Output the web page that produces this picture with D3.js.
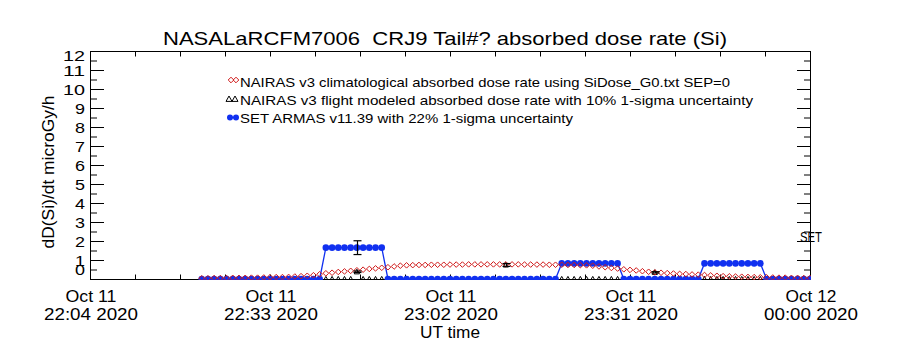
<!DOCTYPE html>
<html>
<head>
<meta charset="utf-8">
<script src="https://cdn.jsdelivr.net/npm/d3@7"></script>
<style>
  html, body { margin: 0; padding: 0; background: #fff; }
  svg { display: block; font-family: "Liberation Sans", "DejaVu Sans", sans-serif; }
  text { white-space: pre; }
</style>
</head>
<body>
<svg id="chart" width="900" height="350"></svg>
<script>
// ---- text ----
const titleText = "NASALaRCFM7006  CRJ9 Tail#? absorbed dose rate (Si)";
const yTitle = "dD(Si)/dt microGy/h";
const xTitle = "UT time";
const legendLabels = [
  "NAIRAS v3 climatological absorbed dose rate using SiDose_G0.txt SEP=0",
  "NAIRAS v3 flight modeled absorbed dose rate with 10% 1-sigma uncertainty",
  "SET ARMAS v11.39 with 22% 1-sigma uncertainty"
];
const sideLabel = "SET";

// ---- axes ----
const xTickTimes = ["2020-10-11T22:04:00Z", "2020-10-11T22:33:00Z", "2020-10-11T23:02:00Z",
                    "2020-10-11T23:31:00Z", "2020-10-12T00:00:00Z"];
const xTickDate = ["Oct 11", "Oct 11", "Oct 11", "Oct 11", "Oct 12"];
const xTickClock = ["22:04 2020", "22:33 2020", "23:02 2020", "23:31 2020", "00:00 2020"];
const yTickValues = [0, 1, 2, 3, 4, 5, 6, 7, 8, 9, 10, 11, 12];
const yMinorValues = [0.5, 1.5, 2.5, 3.5, 4.5, 5.5, 6.5, 7.5, 8.5, 9.5, 10.5, 11.5];

// ---- series: one sample per minute from 22:22 UT to 00:00 UT ----
const seriesStart = "2020-10-11T22:22:00Z";
const sampleMinutes = 1;

// SET ARMAS measured dose rate (microGy/h)
const setArmas = [
  0, 0, 0, 0, 0, 0, 0, 0, 0, 0,
  0, 0, 0, 0, 0, 0, 0, 0, 0, 0,
  1.65, 1.65, 1.65, 1.65, 1.65, 1.65, 1.65, 1.65, 1.65, 1.65,
  0, 0, 0, 0, 0, 0, 0, 0, 0, 0,
  0, 0, 0, 0, 0, 0, 0, 0, 0, 0,
  0, 0, 0, 0, 0, 0, 0, 0, 0.82, 0.82,
  0.82, 0.82, 0.82, 0.82, 0.82, 0.82, 0.82, 0.82, 0, 0,
  0, 0, 0, 0, 0, 0, 0, 0, 0, 0,
  0, 0.82, 0.82, 0.82, 0.82, 0.82, 0.82, 0.82, 0.82, 0.82,
  0.82, 0, 0, 0, 0, 0, 0, 0, 0
];

// NAIRAS v3 climatological dose rate (microGy/h)
const climatological = [
  0.04, 0.04, 0.05, 0.05, 0.05, 0.06, 0.06, 0.06, 0.07, 0.07,
  0.08, 0.09, 0.10, 0.10, 0.11, 0.13, 0.15, 0.17, 0.20, 0.25,
  0.30, 0.33, 0.37, 0.40, 0.43, 0.46, 0.49, 0.53, 0.56, 0.59,
  0.62, 0.66, 0.70, 0.72, 0.73, 0.74, 0.74, 0.75, 0.75, 0.75,
  0.76, 0.76, 0.76, 0.77, 0.77, 0.77, 0.77, 0.77, 0.77, 0.77,
  0.77, 0.77, 0.76, 0.76, 0.76, 0.76, 0.75, 0.75, 0.75, 0.74,
  0.74, 0.73, 0.72, 0.70, 0.66, 0.62, 0.58, 0.55, 0.51, 0.48,
  0.45, 0.41, 0.38, 0.35, 0.33, 0.31, 0.29, 0.27, 0.26, 0.24,
  0.23, 0.21, 0.19, 0.17, 0.15, 0.14, 0.13, 0.12, 0.11, 0.10,
  0.09, 0.09, 0.08, 0.07, 0.07, 0.06, 0.06, 0.05, 0.05
];

// NAIRAS v3 flight-modeled dose rate (microGy/h)
const flightModel = [
  0, 0, 0, 0, 0, 0, 0, 0, 0, 0,
  0, 0, 0, 0, 0, 0, 0, 0, 0, 0,
  0, 0, 0, 0, 0, 0.38, 0, 0, 0, 0,
  0, 0, 0, 0, 0, 0, 0, 0, 0, 0,
  0, 0, 0, 0, 0, 0, 0, 0, 0, 0.74,
  0, 0, 0, 0, 0, 0, 0, 0, 0, 0,
  0, 0, 0, 0, 0, 0, 0, 0, 0, 0,
  0, 0, 0, 0.35, 0, 0, 0, 0, 0, 0,
  0, 0, 0, 0, 0, 0, 0, 0, 0, 0,
  0, 0, 0, 0, 0, 0, 0, 0, 0
];
const flightRelErr = 0.10;

// SET ARMAS summary point with its 1-sigma bar
const setErrTimes = ["2020-10-11T22:47:00Z"];
const setErrValues = [1.65];
const setRelErr = 0.22;

// ---- colours ----
const RED = "#d01818";
const BLUE = "#1030f0";

// ---- build ----
const svg = d3.select("#chart");
const X0 = 90, X1 = 810, Y0 = 279, Y1 = 51;

const t0 = new Date(xTickTimes[0]), t1 = new Date(xTickTimes[xTickTimes.length - 1]);
const x = d3.scaleUtc().domain([t0, t1]).range([X0, X1]);
const y = d3.scaleLinear().domain([0, 12]).range([Y0, Y1]);

const startMs = +new Date(seriesStart);
const timeAt = i => new Date(startMs + i * sampleMinutes * 60000);

svg.append("defs").append("clipPath").attr("id", "plotClip")
  .append("rect").attr("x", X0).attr("y", Y1).attr("width", X1 - X0 + 1).attr("height", Y0 - Y1 + 1);

// frame
svg.append("rect").attr("x", X0 + 0.5).attr("y", Y1 + 0.5)
  .attr("width", X1 - X0).attr("height", Y0 - Y1)
  .attr("fill", "none").attr("stroke", "#000").attr("stroke-width", 1);

function ticksOnly(axis, transform) {
  const g = svg.append("g").attr("transform", transform).call(axis);
  g.select(".domain").remove();
  g.selectAll("text").remove();
  g.selectAll("line").attr("stroke", "#000");
  return g;
}

// x ticks: four sub-intervals between each labelled time
const xMinorTimes = d3.range((xTickTimes.length - 1) * 4 + 1)
  .map(k => new Date(+t0 + k * (t1 - t0) / ((xTickTimes.length - 1) * 4)));
ticksOnly(d3.axisBottom(x).tickValues(xMinorTimes).tickSize(-5), `translate(0,${Y0 + 0.5})`);
ticksOnly(d3.axisTop(x).tickValues(xMinorTimes).tickSize(-5), `translate(0,${Y1 + 0.5})`);

// y ticks, both sides
ticksOnly(d3.axisLeft(y).tickValues(yTickValues).tickSize(-14), `translate(${X0},0)`);
ticksOnly(d3.axisLeft(y).tickValues(yMinorValues).tickSize(-7), `translate(${X0},0)`);
ticksOnly(d3.axisRight(y).tickValues(yTickValues).tickSize(-14), `translate(${X1 + 1},0)`);
ticksOnly(d3.axisRight(y).tickValues(yMinorValues).tickSize(-7), `translate(${X1 + 1},0)`);

// y tick labels (kept inside the frame height at the ends)
svg.append("g").selectAll("text").data(yTickValues).join("text")
  .attr("x", 85)
  .attr("y", d => Math.max(Y1 + 5, Math.min(Y0 - 9, y(d) + 1)))
  .attr("dy", "0.36em")
  .attr("text-anchor", "end")
  .attr("font-size", 14)
  .attr("textLength", d => String(d).length > 1 ? 22 : 10)
  .attr("lengthAdjust", "spacingAndGlyphs")
  .text(d => d);

// x tick labels
const xl = svg.append("g");
xTickTimes.forEach((t, i) => {
  const cx = x(new Date(t)) + 1;
  xl.append("text").attr("x", cx).attr("y", 302).attr("text-anchor", "middle")
    .attr("font-size", 16).attr("textLength", 51).attr("lengthAdjust", "spacingAndGlyphs")
    .text(xTickDate[i]);
  xl.append("text").attr("x", cx).attr("y", 320).attr("text-anchor", "middle")
    .attr("font-size", 16).attr("textLength", 94).attr("lengthAdjust", "spacingAndGlyphs")
    .text(xTickClock[i]);
});

// titles
svg.append("text").attr("x", 445).attr("y", 45).attr("text-anchor", "middle")
  .attr("font-size", 19).attr("textLength", 564).attr("lengthAdjust", "spacingAndGlyphs")
  .text(titleText);
svg.append("text").attr("x", 450).attr("y", 338).attr("text-anchor", "middle")
  .attr("font-size", 16).attr("textLength", 60).attr("lengthAdjust", "spacingAndGlyphs")
  .text(xTitle);
svg.append("text").attr("transform", "translate(54,172) rotate(-90)").attr("text-anchor", "middle")
  .attr("font-size", 16).attr("textLength", 153).attr("lengthAdjust", "spacingAndGlyphs")
  .text(yTitle);

// ---- marks ----
const diamond = (s) => `M0,${-s}L${s},0L0,${s}L${-s},0Z`;
const triangle = (s) => `M0,${-s}L${s},${s * 0.8}L${-s},${s * 0.8}Z`;

const plot = svg.append("g").attr("clip-path", "url(#plotClip)");

// flight-modeled triangles
const flightPts = flightModel.map((v, i) => ({ t: timeAt(i), v }));
plot.append("g").selectAll("path").data(flightPts).join("path")
  .attr("transform", d => `translate(${x(d.t)},${y(d.v)})`)
  .attr("d", triangle(2.6))
  .attr("fill", "none").attr("stroke", "#000").attr("stroke-width", 1);

// SET ARMAS line and dots
const setPts = setArmas.map((v, i) => ({ t: timeAt(i), v }));
plot.append("path").datum(setPts)
  .attr("d", d3.line().x(d => x(d.t)).y(d => y(d.v)))
  .attr("fill", "none").attr("stroke", BLUE).attr("stroke-width", 1.3);
plot.append("g").selectAll("circle").data(setPts).join("circle")
  .attr("cx", d => x(d.t)).attr("cy", d => y(d.v)).attr("r", 3.3)
  .attr("fill", BLUE);

// climatological diamonds
const climPts = climatological.map((v, i) => ({ t: timeAt(i), v }));
plot.append("g").selectAll("path").data(climPts).join("path")
  .attr("transform", d => `translate(${x(d.t)},${y(d.v)})`)
  .attr("d", diamond(2.8))
  .attr("fill", "none").attr("stroke", RED).attr("stroke-width", 1);

// error bars
function errorBar(g, t, v, rel, capHalf) {
  const cx = Math.round(x(t)) + 0.5;
  const lo = y(v * (1 - rel)), hi = y(v * (1 + rel));
  g.append("line").attr("x1", cx).attr("x2", cx).attr("y1", lo).attr("y2", hi);
  g.append("line").attr("x1", cx - capHalf).attr("x2", cx + capHalf).attr("y1", lo).attr("y2", lo);
  g.append("line").attr("x1", cx - capHalf).attr("x2", cx + capHalf).attr("y1", hi).attr("y2", hi);
}
const eb = plot.append("g").attr("stroke", "#000").attr("stroke-width", 1.2);
setErrTimes.forEach((t, i) => errorBar(eb, new Date(t), setErrValues[i], setRelErr, 4));
flightPts.filter(d => d.v > 0).forEach(d => errorBar(eb, d.t, d.v, flightRelErr, 4));

// ---- legend ----
const lg = svg.append("g");
[231, 236].forEach(cx => lg.append("path").attr("transform", `translate(${cx},80)`)
  .attr("d", diamond(2.8)).attr("fill", "none").attr("stroke", RED));
[229, 235].forEach(cx => lg.append("path").attr("transform", `translate(${cx},99)`)
  .attr("d", triangle(3)).attr("fill", "none").attr("stroke", "#000"));
lg.append("line").attr("x1", 230).attr("x2", 236).attr("y1", 117.5).attr("y2", 117.5)
  .attr("stroke", BLUE).attr("stroke-width", 1.3);
[230, 236].forEach(cx => lg.append("circle").attr("cx", cx).attr("cy", 117.5).attr("r", 3).attr("fill", BLUE));

const legendBaselines = [86.5, 105, 123];
const legendWidths = [490, 513, 333];
legendLabels.forEach((s, i) => lg.append("text")
  .attr("x", 240).attr("y", legendBaselines[i])
  .attr("font-size", 13).attr("textLength", legendWidths[i]).attr("lengthAdjust", "spacingAndGlyphs")
  .text(s));

svg.append("text").attr("x", 800).attr("y", 242).attr("font-size", 14)
  .attr("textLength", 22).attr("lengthAdjust", "spacingAndGlyphs").text(sideLabel);
</script>
</body>
</html>
